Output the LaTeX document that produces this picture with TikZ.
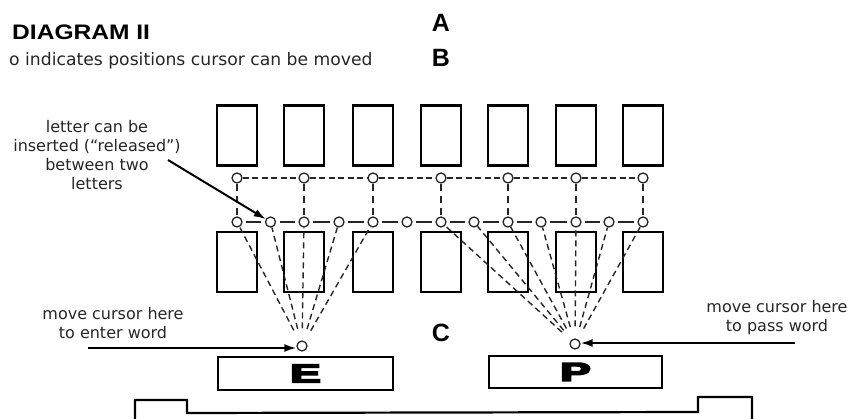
\documentclass[tikz,border=0pt]{standalone}
\usepackage{fontspec}
\setmainfont{DejaVu Sans}
\newfontfamily\headfont{Liberation Sans}
\newfontfamily\heavyfont{Liberation Sans}[FakeBold=6]
\usetikzlibrary{arrows.meta}
\tikzset{
  keybox/.style={draw, line width=2.3pt, minimum width=40pt, minimum height=60pt, inner sep=0pt},
  spot/.style={draw=black!85, circle, line width=1.3pt, minimum size=10pt, inner sep=0pt},
  dlink/.style={dash pattern=on 6pt off 3.5pt, line width=1.5pt, black!85},
  fanline/.style={dash pattern=on 6pt off 4pt, line width=1.4pt, black!85},
  shortlink/.style={line width=1.5pt, black!85, shorten <=3.5pt, shorten >=3.5pt},
  notetext/.style={font=\fontsize{16}{19}\selectfont, text=black!85, align=center, inner sep=0pt},
  bigletter/.style={font=\headfont\bfseries\fontsize{25}{25}\selectfont, inner sep=0pt},
  pointer/.style={line width=2pt, -{Latex[length=12pt,width=8pt]}},
  wordbox/.style={draw, line width=2.2pt, inner sep=0pt}
}
\begin{document}
\begin{tikzpicture}[x=1pt, y=-1pt]
\useasboundingbox (0,0) rectangle (855,419);
% title
\node[anchor=base west, inner sep=0pt, font=\headfont\bfseries\fontsize{21}{21}\selectfont] (title) at (12,40) {\scalebox{1.17}[1]{DIAGRAM II}};
\node[anchor=base west, inner sep=0pt, font=\fontsize{17.2}{19}\selectfont, text=black!85] (legend) at (9,66) {o indicates positions cursor can be moved};
\node[bigletter, anchor=base] (A) at (441,32) {A};
\node[bigletter, anchor=base] (B) at (441,67) {B};
\node[bigletter, anchor=base] (C) at (441,342) {C};
% key boxes and cursor positions
\foreach \i/\x in {1/237, 2/304, 3/373, 4/441, 5/508, 6/576, 7/643} {
  \node[keybox] (t\i) at (\x,135.5) {};
  \node[keybox] (b\i) at (\x,262) {};
  \node[spot] (u\i) at (\x,178) {};
}
\foreach \j/\x in {1/237, 2/270.5, 3/304, 4/339, 5/373, 6/407, 7/441, 8/474, 9/508, 10/541, 11/576, 12/609, 13/643} {
  \node[spot] (l\j) at (\x,222) {};
}
% upper dashed row
\foreach \i [evaluate=\i as \n using int(\i+1)] in {1,...,6} {
  \draw[dlink] (u\i) -- (u\n);
}
% verticals
\foreach \i [evaluate=\i as \k using int(2*\i-1)] in {1,...,7} {
  \draw[dlink, dash pattern=on 7pt off 5pt] (u\i) -- (l\k);
}
% lower row short links
\foreach \j [evaluate=\j as \n using int(\j+1)] in {1,...,12} {
  \draw[shortlink] (l\j) -- (l\n);
}
% E and P
\node[spot] (ce) at (302,346) {};
\node[spot] (cp) at (575,344) {};
\node[wordbox, minimum width=175pt, minimum height=33pt] (ebox) at (305.5,373.5) {};
\node[wordbox, minimum width=173pt, minimum height=32pt] (pbox) at (575.5,372) {};
\node[font=\heavyfont\bfseries\fontsize{26}{26}\selectfont, inner sep=0pt] (Eletter) at (ebox.center) {\scalebox{1.75}[1]{E}};
\node[font=\heavyfont\bfseries\fontsize{26}{26}\selectfont, inner sep=0pt] (Pletter) at (pbox.center) {\scalebox{1.75}[1]{P}};
% fans
\foreach \j in {1,...,5} { \draw[fanline, shorten <=12pt] (ce) -- (l\j); }
\foreach \j in {7,...,13} { \draw[fanline, shorten <=12pt] (cp) -- (l\j); }
% annotations
\node[notetext] (ins) at (97,155) {letter can be\\inserted (“released”)\\between two\\letters};
\coordinate (insStart) at (168,160);
\draw[pointer] (insStart) -- (l2);
\node[notetext] (enter) at (113,323) {move cursor here\\to enter word};
\coordinate (enterStart) at (88,348);
\draw[pointer] (enterStart) -- (ce.west |- enterStart);
\node[notetext] (pass) at (777,318) {move cursor here\\to pass word};
\coordinate (passStart) at (795,343);
\draw[pointer] (passStart) -- (cp.east |- passStart);
% stand
\draw[line width=2.2pt] (135,421) -- (135,400) -- (187,400) -- (187,413) -- (698,412) -- (698,397) -- (752,397) -- (752,421);
\end{tikzpicture}
\end{document}
